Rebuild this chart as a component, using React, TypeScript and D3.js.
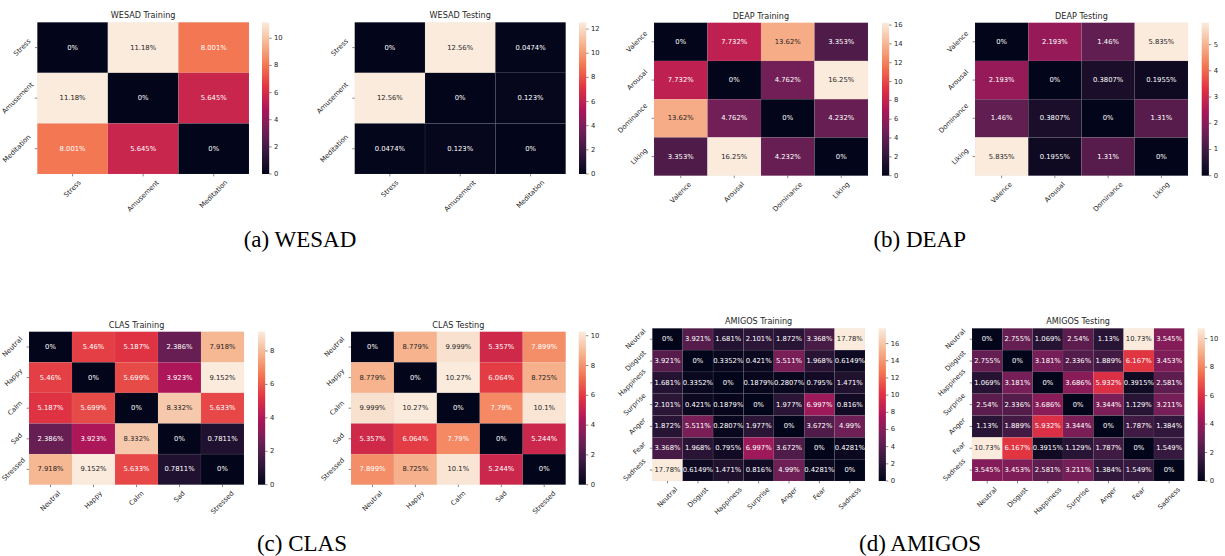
import React from "react";
import * as d3 from "d3";

// ---------- data ----------
const wesadLabels = ["Stress", "Amusement", "Meditation"];
const wesadTrain = [
  [0, 11.18, 8.001],
  [11.18, 0, 5.645],
  [8.001, 5.645, 0],
];
const wesadTest = [
  [0, 12.56, 0.0474],
  [12.56, 0, 0.123],
  [0.0474, 0.123, 0],
];
const deapLabels = ["Valence", "Arousal", "Dominance", "Liking"];
const deapTrain = [
  [0, 7.732, 13.62, 3.353],
  [7.732, 0, 4.762, 16.25],
  [13.62, 4.762, 0, 4.232],
  [3.353, 16.25, 4.232, 0],
];
const deapTest = [
  [0, 2.193, 1.46, 5.835],
  [2.193, 0, 0.3807, 0.1955],
  [1.46, 0.3807, 0, 1.31],
  [5.835, 0.1955, 1.31, 0],
];
const clasLabels = ["Neutral", "Happy", "Calm", "Sad", "Stressed"];
const clasTrain = [
  [0, 5.46, 5.187, 2.386, 7.918],
  [5.46, 0, 5.699, 3.923, 9.152],
  [5.187, 5.699, 0, 8.332, 5.633],
  [2.386, 3.923, 8.332, 0, 0.7811],
  [7.918, 9.152, 5.633, 0.7811, 0],
];
const clasTest = [
  [0, 8.779, 9.999, 5.357, 7.899],
  [8.779, 0, 10.27, 6.064, 8.725],
  [9.999, 10.27, 0, 7.79, 10.1],
  [5.357, 6.064, 7.79, 0, 5.244],
  [7.899, 8.725, 10.1, 5.244, 0],
];
const amigosLabels = ["Neutral", "Disgust", "Happiness", "Surprise", "Anger", "Fear", "Sadness"];
const amigosTrain = [
  [0, 3.921, 1.681, 2.101, 1.872, 3.368, 17.78],
  [3.921, 0, 0.3352, 0.421, 5.511, 1.968, 0.6149],
  [1.681, 0.3352, 0, 0.1879, 0.2807, 0.795, 1.471],
  [2.101, 0.421, 0.1879, 0, 1.977, 6.997, 0.816],
  [1.872, 5.511, 0.2807, 1.977, 0, 3.672, 4.99],
  [3.368, 1.968, 0.795, 6.997, 3.672, 0, 0.4281],
  [17.78, 0.6149, 1.471, 0.816, 4.99, 0.4281, 0],
];
const amigosTest = [
  [0, 2.755, 1.069, 2.54, 1.13, 10.73, 3.545],
  [2.755, 0, 3.181, 2.336, 1.889, 6.167, 3.453],
  [1.069, 3.181, 0, 3.686, 5.932, 0.3915, 2.581],
  [2.54, 2.336, 3.686, 0, 3.344, 1.129, 3.211],
  [1.13, 1.889, 5.932, 3.344, 0, 1.787, 1.384],
  [10.73, 6.167, 0.3915, 1.129, 1.787, 0, 1.549],
  [3.545, 3.453, 2.581, 3.211, 1.384, 1.549, 0],
];
const captions = ["(a) WESAD", "(b) DEAP", "(c) CLAS", "(d) AMIGOS"];

// ---------- colormap (seaborn rocket approximation) ----------
const rocketStops = ["#03051a", "#35193e", "#701f57", "#ad1759", "#e13342", "#f37651", "#f6b48f", "#faebdd"];
const rocket = d3
  .scaleLinear<string>()
  .domain(rocketStops.map((_, i) => i / (rocketStops.length - 1)))
  .range(rocketStops)
  .interpolate(d3.interpolateRgb)
  .clamp(true);

function luminance(c: string) {
  const rgb = d3.rgb(c);
  const lin = (v: number) => {
    const s = v / 255;
    return s <= 0.03928 ? s / 12.92 : Math.pow((s + 0.055) / 1.055, 2.4);
  };
  return 0.2126 * lin(rgb.r) + 0.7152 * lin(rgb.g) + 0.0722 * lin(rgb.b);
}

// ---------- text measure ----------
const FONT = "DejaVu Sans";
let ctx: CanvasRenderingContext2D | null = null;
function measure(text: string, size: number) {
  if (!ctx) ctx = document.createElement("canvas").getContext("2d");
  if (!ctx) return text.length * size * 0.6;
  ctx.font = `${size}px "${FONT}"`;
  return ctx.measureText(text).width;
}

// ---------- layout ----------
type Panel = {
  id: string;
  title: string;
  labels: string[];
  data: number[][];
  left: number;
  right: number;
  top: number;
  bottom: number;
  cbx: number;
};

const panels: Panel[] = [
  { id: "p1", title: "WESAD Training", labels: wesadLabels, data: wesadTrain, left: 37.3, right: 249, top: 22.3, bottom: 174, cbx: 262 },
  { id: "p2", title: "WESAD Testing", labels: wesadLabels, data: wesadTest, left: 354.7, right: 565.7, top: 22.3, bottom: 174, cbx: 579 },
  { id: "p3", title: "DEAP Training", labels: deapLabels, data: deapTrain, left: 654, right: 868, top: 22.7, bottom: 175.7, cbx: 882 },
  { id: "p4", title: "DEAP Testing", labels: deapLabels, data: deapTest, left: 975, right: 1188, top: 22.7, bottom: 175.7, cbx: 1201.7 },
  { id: "p5", title: "CLAS Training", labels: clasLabels, data: clasTrain, left: 29, right: 244, top: 331.7, bottom: 484.7, cbx: 258 },
  { id: "p6", title: "CLAS Testing", labels: clasLabels, data: clasTest, left: 351, right: 565.7, top: 331.7, bottom: 484.7, cbx: 578.7 },
  { id: "p7", title: "AMIGOS Training", labels: amigosLabels, data: amigosTrain, left: 652.3, right: 865, top: 328.3, bottom: 481, cbx: 878.7 },
  { id: "p8", title: "AMIGOS Testing", labels: amigosLabels, data: amigosTest, left: 972, right: 1184.3, top: 328.3, bottom: 481, cbx: 1197.7 },
];

const captionPos = [
  { x: 300, y: 247 },
  { x: 919.7, y: 247 },
  { x: 302, y: 550.5 },
  { x: 920, y: 550.5 },
];

const FS = 6.8;
const TITLE_FS = 8.1;
const TICK_LEN = 2.4;
const PAD = 2.4;
const CB_W = 7.2;
const TXT = "#262626";

function Heatmap({ p }: { p: Panel }) {
  const x = d3.scaleBand<string>().domain(p.labels).range([p.left, p.right]).padding(0);
  const y = d3.scaleBand<string>().domain(p.labels).range([p.top, p.bottom]).padding(0);
  const vmax = d3.max(p.data.flat()) as number;
  const vmin = d3.min(p.data.flat()) as number;
  const norm = d3.scaleLinear().domain([vmin, vmax]).range([0, 1]);
  const cbScale = d3.scaleLinear().domain([vmin, vmax]).range([p.bottom, p.top]);
  const ticks = cbScale.ticks(6);
  const h = FS * 1.164;
  const stops = d3.range(0, 1.0001, 1 / 64);

  return (
    <g>
      <defs>
        <linearGradient id={`grad-${p.id}`} x1="0" y1="1" x2="0" y2="0">
          {stops.map((t, i) => (
            <stop key={i} offset={t} stopColor={rocket(t)} />
          ))}
        </linearGradient>
      </defs>
      {p.data.map((row, ri) =>
        row.map((v, ci) => {
          const fill = rocket(norm(v));
          return (
            <rect
              key={`c-${ri}-${ci}`}
              x={x(p.labels[ci])}
              y={y(p.labels[ri])}
              width={x.bandwidth()}
              height={y.bandwidth()}
              fill={fill}
              stroke="rgba(200,200,200,0.14)"
              strokeWidth={0.5}
            />
          );
        })
      )}
      {p.data.map((row, ri) =>
        row.map((v, ci) => {
          const fill = rocket(norm(v));
          const col = luminance(fill) > 0.408 ? TXT : "#ffffff";
          return (
            <text
              key={`a-${ri}-${ci}`}
              x={(x(p.labels[ci]) as number) + x.bandwidth() / 2}
              y={(y(p.labels[ri]) as number) + y.bandwidth() / 2}
              textAnchor="middle"
              dominantBaseline="central"
              fontFamily={FONT}
              fontSize={FS}
              fill={col}
            >
              {`${v}%`}
            </text>
          );
        })
      )}
      <text
        x={(p.left + p.right) / 2}
        y={p.top - 4.1}
        textAnchor="middle"
        fontFamily={FONT}
        fontSize={TITLE_FS}
        fill={TXT}
      >
        {p.title}
      </text>
      {p.labels.map((lab) => {
        const ty = (y(lab) as number) + y.bandwidth() / 2;
        const w = measure(lab, FS);
        const side = (w + h) * Math.SQRT1_2;
        const cx = Math.max(p.left - TICK_LEN - PAD - side / 2, side / 2 + 0.5);
        return (
          <g key={`y-${lab}`}>
            <line x1={p.left - TICK_LEN} x2={p.left} y1={ty} y2={ty} stroke={TXT} strokeWidth={0.55} />
            <text
              x={cx}
              y={ty}
              textAnchor="middle"
              dominantBaseline="central"
              fontFamily={FONT}
              fontSize={FS}
              fill={TXT}
              transform={`rotate(-45, ${cx}, ${ty})`}
            >
              {lab}
            </text>
          </g>
        );
      })}
      {p.labels.map((lab) => {
        const tx = (x(lab) as number) + x.bandwidth() / 2;
        const w = measure(lab, FS);
        const side = (w + h) * Math.SQRT1_2;
        const cy = p.bottom + TICK_LEN + PAD + side / 2;
        return (
          <g key={`x-${lab}`}>
            <line x1={tx} x2={tx} y1={p.bottom} y2={p.bottom + TICK_LEN} stroke={TXT} strokeWidth={0.55} />
            <text
              x={tx}
              y={cy}
              textAnchor="middle"
              dominantBaseline="central"
              fontFamily={FONT}
              fontSize={FS}
              fill={TXT}
              transform={`rotate(-45, ${tx}, ${cy})`}
            >
              {lab}
            </text>
          </g>
        );
      })}
      <rect x={p.cbx} y={p.top} width={CB_W} height={p.bottom - p.top} fill={`url(#grad-${p.id})`} />
      {ticks.map((t) => {
        const ty = cbScale(t);
        return (
          <g key={`cb-${t}`}>
            <line x1={p.cbx + CB_W} x2={p.cbx + CB_W + TICK_LEN} y1={ty} y2={ty} stroke={TXT} strokeWidth={0.55} />
            <text
              x={p.cbx + CB_W + TICK_LEN + PAD}
              y={ty}
              dominantBaseline="central"
              fontFamily={FONT}
              fontSize={FS}
              fill={TXT}
            >
              {t}
            </text>
          </g>
        );
      })}
    </g>
  );
}

export default function App() {
  return (
    <svg
      width={1225}
      height={556}
      viewBox="0 0 1225 556"
      style={{ position: "absolute", left: 0, top: 0, background: "#ffffff" }}
    >
      <rect x={0} y={0} width={1225} height={556} fill="#ffffff" />
      {panels.map((p) => (
        <Heatmap key={p.id} p={p} />
      ))}
      {captions.map((c, i) => (
        <text
          key={c}
          x={captionPos[i].x}
          y={captionPos[i].y}
          textAnchor="middle"
          fontFamily="Liberation Serif, Times New Roman, serif"
          fontSize={23}
          fill="#000"
        >
          {c}
        </text>
      ))}
    </svg>
  );
}
